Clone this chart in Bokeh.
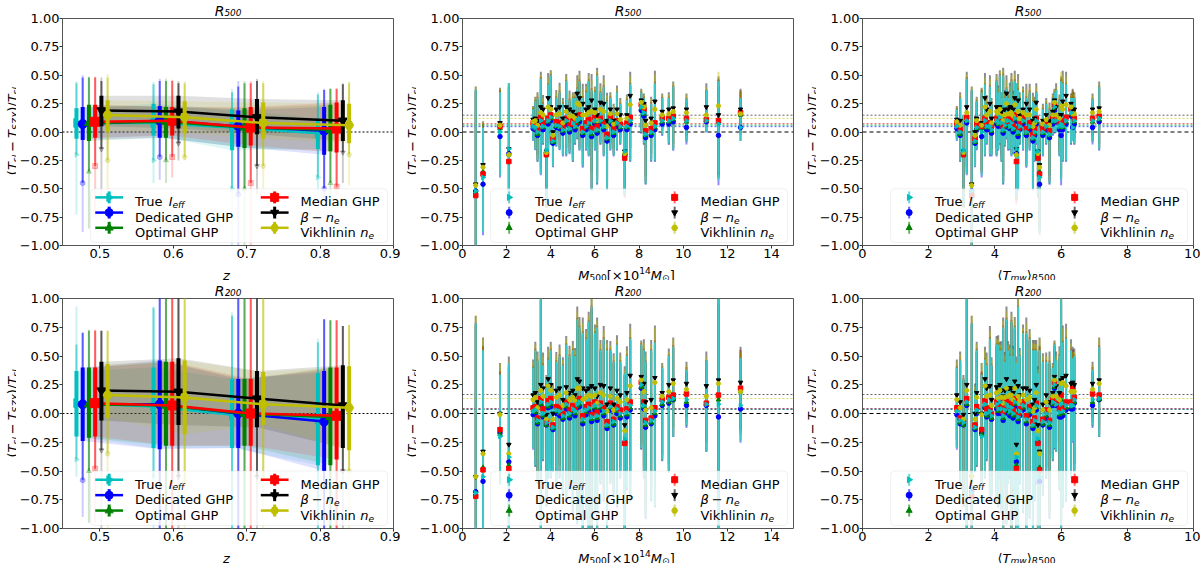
import numpy as np
from bokeh.plotting import figure
from bokeh.layouts import column, row
from bokeh.models import (ColumnDataSource, Label, Span, BoxAnnotation, FixedTicker,
                          Range1d, CustomJSTickFormatter, Plot)
from bokeh.embed import file_html
from bokeh.resources import INLINE

FONT = "DejaVu Sans"

# ---------------------------------------------------------------- methods
method_colors = ["#00bfbf", "#0000ff", "#008000", "#ff0000", "#000000", "#bfbf00"]
method_markers = ["triangle", "circle", "triangle", "square", "inverted_triangle", "hex"]
method_angles = [-np.pi / 2, 0.0, 0.0, 0.0, 0.0, 0.0]
# legend texts as (piece, style) runs: n normal, i italic, si/sn subscript, p superscript
method_labels = [
    [("True ", "n"), ("I", "i"), ("eff", "si")],
    [("Dedicated GHP", "n")],
    [("Optimal GHP", "n")],
    [("Median GHP", "n")],
    [("β", "i"), (3, "gap"), ("−", "n"), (3, "gap"), ("n", "i"), ("e", "si")],
    [("Vikhlinin ", "n"), ("n", "i"), ("e", "si")],
]

# ---------------------------------------------------------------- redshift bins
z_bins = [0.468, 0.573, 0.680, 0.797]
z_dodge = [0.0, 0.0085, 0.017, 0.0255, 0.034, 0.0425]

# R500: rows = methods (True, Dedicated, Optimal, Median, beta, Vikhlinin)
z500_med = [[0.08, 0.08, 0.04, -0.01], [0.07, 0.10, 0.05, 0.01], [0.08, 0.09, 0.04, 0.02],
            [0.09, 0.10, 0.04, 0.03], [0.19, 0.18, 0.13, 0.10], [0.15, 0.13, 0.08, 0.06]]
z500_in_lo = [[-0.06, -0.03, -0.16, -0.15], [-0.07, -0.05, -0.13, -0.20], [-0.08, -0.05, -0.14, -0.17],
              [-0.05, -0.03, -0.12, -0.18], [0.05, 0.03, -0.02, -0.08], [0.00, -0.01, -0.06, -0.10]]
z500_in_hi = [[0.21, 0.25, 0.20, 0.12], [0.22, 0.23, 0.19, 0.22], [0.24, 0.22, 0.21, 0.24],
              [0.24, 0.22, 0.22, 0.26], [0.32, 0.32, 0.29, 0.28], [0.28, 0.27, 0.26, 0.25]]
z500_mid_lo = [[-0.20, -0.25, -0.50, -0.40], [-0.45, -0.22, -0.55, -0.50], [-0.35, -0.25, -0.50, -0.45],
               [-0.30, -0.22, -0.45, -0.48], [-0.15, -0.10, -0.30, -0.18], [-0.25, -0.22, -0.30, -0.20]]
z500_mid_hi = [[0.43, 0.42, 0.35, 0.33], [0.48, 0.45, 0.40, 0.37], [0.48, 0.45, 0.43, 0.38],
               [0.48, 0.45, 0.43, 0.38], [0.45, 0.43, 0.45, 0.42], [0.48, 0.43, 0.43, 0.43]]
z500_out_lo = [[-0.73, -0.45, -1.05, -0.55], [-0.88, -0.42, -1.05, -0.60], [-0.85, -0.45, -1.05, -0.60],
               [-0.75, -0.40, -1.05, -0.55], [-0.60, -0.25, -0.55, -0.45], [-0.55, -0.25, -0.50, -0.47]]
z500_out_hi = [[0.45, 0.44, 0.38, 0.35], [0.50, 0.47, 0.45, 0.38], [0.49, 0.47, 0.45, 0.38],
               [0.49, 0.46, 0.45, 0.38], [0.48, 0.45, 0.47, 0.43], [0.51, 0.45, 0.45, 0.45]]

# R200
z200_med = [[0.09, 0.06, -0.01, -0.05], [0.08, 0.08, 0.00, -0.07], [0.08, 0.07, 0.00, -0.03],
            [0.09, 0.07, 0.00, -0.02], [0.20, 0.19, 0.13, 0.07], [0.16, 0.14, 0.08, 0.05]]
z200_in_lo = [[-0.20, -0.30, -0.30, -0.45], [-0.24, -0.31, -0.30, -0.50], [-0.21, -0.28, -0.28, -0.45],
              [-0.20, -0.28, -0.28, -0.40], [-0.06, -0.10, -0.12, -0.30], [-0.04, -0.18, -0.10, -0.32]]
z200_in_hi = [[0.37, 0.40, 0.30, 0.35], [0.40, 0.46, 0.30, 0.37], [0.40, 0.45, 0.30, 0.40],
              [0.40, 0.45, 0.30, 0.40], [0.45, 0.48, 0.37, 0.42], [0.43, 0.46, 0.36, 0.41]]
z200_mid_lo = [[-0.40, -0.55, -1.05, -1.05], [-0.58, -1.05, -1.05, -1.05], [-0.50, -1.05, -1.05, -1.05],
               [-0.48, -1.05, -1.05, -1.05], [-0.32, -0.55, -0.55, -0.50], [-0.35, -0.60, -0.55, -0.50]]
z200_mid_hi = [[0.60, 0.92, 0.85, 0.62], [0.70, 1.05, 1.05, 0.82], [0.72, 1.05, 1.05, 0.81],
               [0.72, 1.05, 1.05, 0.81], [0.72, 1.05, 1.05, 0.76], [0.72, 1.05, 1.05, 0.77]]
z200_out_lo = [[-0.55, -1.05, -1.05, -1.05], [-0.90, -1.05, -1.05, -1.05], [-0.95, -1.05, -1.05, -1.05],
               [-0.95, -1.05, -1.05, -1.05], [-1.05, -1.05, -1.05, -1.05], [-1.05, -1.05, -1.05, -1.05]]
z200_out_hi = [[0.93, 0.93, 0.88, 0.65], [0.71, 1.05, 1.05, 0.82], [0.73, 1.05, 1.05, 0.81],
               [0.73, 1.05, 1.05, 0.81], [0.72, 1.05, 1.05, 0.76], [0.72, 1.05, 1.05, 0.77]]

# ---------------------------------------------------------------- individual clusters
m500 = [0.60, 0.93, 1.70, 2.10, 3.20, 3.30, 3.40, 3.55, 3.65, 3.80, 3.88, 4.00, 4.10, 4.25, 4.40,
        4.55, 4.70, 4.85, 5.00, 5.10, 5.20, 5.30, 5.45, 5.60, 5.72, 5.85, 6.00, 6.10, 6.25, 6.40,
        6.55, 6.70, 6.85, 7.00, 7.15, 7.35, 7.45, 7.60, 8.10, 8.22, 8.30, 8.55, 8.72, 9.05, 9.35,
        9.55, 10.15, 11.05, 11.60, 12.60]
tmw = [3.30, 5.35, 3.60, 4.65, 2.85, 3.45, 2.95, 3.15, 3.75, 3.05, 3.70, 4.15, 3.40, 4.30, 4.45,
       3.90, 4.05, 4.55, 4.20, 4.75, 4.35, 4.60, 4.95, 5.05, 4.50, 4.70, 4.85, 4.25, 5.25, 3.85,
       5.15, 4.40, 5.45, 4.10, 5.55, 5.30, 5.95, 6.15, 5.80, 6.30, 5.65, 5.20, 6.05, 5.75, 6.40,
       7.15, 6.95, 5.85, 6.00, 6.35]

r500_true = [-0.52, -0.40, 0.00, -0.15, 0.05, 0.04, 0.00, 0.10, 0.05, -0.16, 0.10, 0.13, -0.08, 0.06, 0.05,
             0.02, 0.10, 0.03, 0.08, 0.05, 0.10, 0.12, 0.00, 0.05, 0.08, 0.00, 0.10, 0.02, 0.10, 0.05,
             -0.05, 0.10, 0.00, 0.08, 0.05, -0.17, 0.05, 0.10, 0.22, 0.17, -0.02, 0.00, 0.05, 0.10, 0.10,
             0.12, 0.10, 0.10, 0.07, 0.04]
r500_dedicated = [-0.52, -0.46, -0.04, -0.19, 0.03, 0.02, -0.03, 0.08, 0.02, -0.18, 0.07, 0.10, -0.10, 0.04, 0.03,
                  -0.01, 0.07, 0.00, 0.05, 0.02, 0.07, 0.09, -0.03, 0.02, 0.05, -0.04, 0.07, -0.01, 0.07, 0.02,
                  -0.08, 0.07, -0.03, 0.05, 0.02, -0.20, 0.02, 0.07, 0.19, 0.14, -0.05, -0.03, 0.02, 0.07, 0.07,
                  0.09, 0.04, 0.09, -0.03, 0.04]
r500_optimal = [-0.53, -0.35, 0.03, -0.20, 0.06, 0.03, -0.02, 0.10, 0.04, -0.19, 0.09, 0.12, -0.09, 0.05, 0.04,
                0.01, 0.09, 0.02, 0.06, 0.04, 0.08, 0.11, -0.01, 0.04, 0.07, -0.02, 0.09, 0.01, 0.09, 0.04,
                -0.06, 0.09, -0.01, 0.07, 0.04, -0.19, 0.04, 0.09, 0.21, 0.16, -0.03, -0.01, 0.04, 0.09, 0.09,
                0.11, 0.09, 0.10, 0.09, 0.15]
r500_median = [-0.56, -0.37, 0.05, -0.26, 0.08, 0.07, 0.02, 0.13, 0.08, -0.20, 0.12, 0.15, -0.06, 0.09, 0.08,
               0.05, 0.12, 0.06, 0.10, 0.07, 0.13, 0.15, 0.03, 0.08, 0.11, 0.03, 0.13, 0.05, 0.12, 0.08,
               -0.02, 0.13, 0.03, 0.10, 0.07, -0.23, 0.08, 0.13, 0.24, 0.20, 0.01, 0.03, 0.08, 0.12, 0.12,
               0.14, 0.12, 0.11, 0.10, 0.17]
r500_beta = [-0.46, -0.29, 0.08, -0.15, 0.11, 0.12, 0.10, 0.22, 0.20, -0.17, 0.30, 0.22, 0.00, 0.20, 0.22,
             0.12, 0.22, 0.20, 0.18, 0.15, 0.34, 0.30, 0.25, 0.20, 0.22, 0.28, 0.20, 0.15, 0.26, 0.25,
             0.10, 0.20, 0.10, 0.20, 0.15, -0.17, 0.15, 0.32, 0.28, 0.25, 0.10, 0.12, 0.27, 0.18, 0.20,
             0.21, 0.20, 0.22, 0.15, 0.20]
r500_vikhlinin = [-0.47, -0.31, 0.06, -0.20, 0.09, 0.10, 0.06, 0.17, 0.15, -0.18, 0.22, 0.20, -0.03, 0.15, 0.16,
                  0.08, 0.18, 0.14, 0.14, 0.12, 0.25, 0.24, 0.15, 0.15, 0.17, 0.18, 0.17, 0.10, 0.20, 0.18,
                  0.05, 0.16, 0.07, 0.16, 0.11, -0.19, 0.12, 0.24, 0.26, 0.22, 0.06, 0.08, 0.20, 0.15, 0.16,
                  0.18, 0.17, 0.15, 0.23, 0.16]
r500_lo = [-1.05, -0.88, -0.38, -0.58, -0.07, -0.15, -0.25, -0.37, -0.10, -0.65, -0.20, -0.10, -0.30, -0.12, -0.15,
           -0.20, -0.20, -0.18, -0.25, -0.10, -0.05, -0.15, -0.30, -0.15, -0.20, -0.50, -0.15, -0.45, -0.10, -0.20,
           -0.50, -0.15, -0.20, -0.15, -0.10, -0.55, -0.20, -0.25, 0.00, -0.10, -0.45, -0.25, -0.25, -0.02, -0.10,
           -0.15, -0.08, 0.00, -0.42, -0.08]
r500_hi = [0.37, 0.04, 0.35, 0.43, 0.20, 0.27, 0.30, 0.47, 0.25, 0.15, 0.42, 0.50, 0.10, 0.30, 0.35,
           0.25, 0.45, 0.28, 0.30, 0.30, 0.38, 0.45, 0.30, 0.35, 0.45, 0.37, 0.35, 0.50, 0.35, 0.40,
           0.27, 0.30, 0.20, 0.35, 0.25, 0.05, 0.28, 0.42, 0.35, 0.30, 0.20, 0.25, 0.43, 0.30, 0.30,
           0.40, 0.29, 0.37, 0.45, 0.30]

r200_true = [-0.69, -0.55, -0.20, -0.38, 0.02, 0.03, -0.06, 0.10, 0.00, -0.08, 0.08, 0.10, -0.12, 0.03, 0.02,
             -0.02, 0.08, 0.00, 0.04, 0.02, 0.08, 0.10, -0.05, 0.03, 0.05, -0.03, 0.07, -0.02, 0.07, 0.02,
             -0.10, 0.06, -0.07, 0.04, 0.00, -0.22, 0.01, 0.07, 0.25, 0.07, -0.08, -0.06, 0.02, 0.10, 0.12,
             0.13, 0.12, 0.08, 0.08, 0.07]
r200_dedicated = [-0.68, -0.59, -0.17, -0.42, -0.01, 0.00, -0.09, 0.07, -0.03, -0.10, 0.05, 0.06, -0.14, 0.00, -0.02,
                  -0.05, 0.04, -0.04, 0.00, -0.02, 0.05, 0.06, -0.09, -0.01, 0.02, -0.07, 0.03, -0.06, 0.03, -0.02,
                  -0.13, 0.03, -0.10, 0.00, -0.04, -0.25, -0.03, 0.03, 0.22, 0.04, -0.12, -0.09, -0.02, 0.07, 0.09,
                  0.12, 0.07, 0.07, -0.03, 0.04]
r200_optimal = [-0.70, -0.47, -0.18, -0.45, 0.03, 0.01, -0.08, 0.08, -0.02, -0.10, 0.06, 0.08, -0.13, 0.02, 0.00,
                -0.04, 0.06, -0.02, 0.02, 0.00, 0.06, 0.08, -0.07, 0.01, 0.04, -0.05, 0.05, -0.04, 0.05, 0.00,
                -0.11, 0.05, -0.09, 0.02, -0.02, -0.24, -0.01, 0.05, 0.23, 0.06, -0.10, -0.08, 0.00, 0.08, 0.10,
                0.12, 0.10, 0.08, 0.12, 0.19]
r200_median = [-0.72, -0.49, -0.14, -0.48, 0.05, 0.06, -0.04, 0.13, 0.04, -0.07, 0.11, 0.13, -0.10, 0.06, 0.05,
               0.00, 0.10, 0.03, 0.07, 0.04, 0.11, 0.13, -0.02, 0.06, 0.08, -0.01, 0.10, 0.01, 0.09, 0.05,
               -0.07, 0.09, -0.05, 0.06, 0.03, -0.26, 0.04, 0.10, 0.27, 0.10, -0.06, -0.04, 0.05, 0.12, 0.14,
               0.16, 0.17, 0.09, 0.16, 0.22]
r200_beta = [-0.55, -0.33, 0.00, -0.27, 0.16, 0.18, 0.10, 0.25, 0.22, -0.01, 0.30, 0.25, 0.00, 0.20, 0.22,
             0.12, 0.23, 0.18, 0.20, 0.16, 0.30, 0.28, 0.22, 0.20, 0.22, 0.24, 0.22, 0.15, 0.25, 0.24,
             0.08, 0.22, 0.08, 0.20, 0.16, -0.10, 0.18, 0.33, 0.32, 0.26, 0.10, 0.12, 0.31, 0.18, 0.25,
             0.29, 0.26, 0.24, 0.29, 0.27]
r200_vikhlinin = [-0.55, -0.35, -0.01, -0.35, 0.12, 0.14, 0.05, 0.20, 0.15, -0.05, 0.24, 0.20, -0.05, 0.14, 0.16,
                  0.07, 0.18, 0.12, 0.14, 0.11, 0.22, 0.22, 0.12, 0.14, 0.16, 0.15, 0.16, 0.09, 0.18, 0.16,
                  0.02, 0.15, 0.03, 0.13, 0.10, -0.15, 0.12, 0.24, 0.29, 0.19, 0.03, 0.05, 0.27, 0.15, 0.19,
                  0.26, 0.21, 0.15, 0.26, 0.19]
r200_lo = [-1.05, -1.05, -0.62, -1.05, -0.30, -0.45, -0.60, -1.05, -0.40, -0.80, -0.55, -0.55, -0.50, -0.62, -0.55,
           -0.70, -0.75, -0.65, -0.85, -0.60, -0.95, -0.90, -1.05, -0.90, -1.05, -1.05, -0.85, -1.05, -0.60, -0.75,
           -1.05, -0.60, -0.70, -0.80, -0.55, -1.05, -0.65, -0.75, -0.30, -0.55, -0.90, -0.75, -0.80, -0.40, -0.50,
           -0.20, -0.10, -0.33, -1.05, -0.24]
r200_hi = [0.78, 0.55, 0.34, 0.44, 0.40, 0.55, 0.46, 1.00, 0.42, 0.30, 0.47, 0.55, 0.20, 0.45, 0.50,
           0.42, 0.60, 0.50, 0.55, 0.50, 0.82, 0.75, 0.70, 0.65, 0.80, 0.93, 0.70, 0.75, 0.55, 0.65,
           0.55, 0.55, 0.45, 0.60, 0.45, 0.35, 0.50, 0.65, 0.60, 0.55, 0.45, 0.55, 0.62, 0.40, 0.50,
           0.58, 0.38, 0.46, 1.00, 0.48]

# sample means of each method (dotted reference lines)
mean_r500 = [0.055, 0.047, 0.063, 0.074, 0.148, 0.120]
mean_r200 = [0.035, 0.040, 0.038, 0.042, 0.165, 0.130]

# ---------------------------------------------------------------- axes
y_ticks = [-1.0, -0.75, -0.5, -0.25, 0.0, 0.25, 0.5, 0.75, 1.0]
z_ticks = [0.5, 0.6, 0.7, 0.8, 0.9]
mass_ticks = [0, 2, 4, 6, 8, 10, 12, 14]
tmw_ticks = [0, 2, 4, 6, 8, 10]

# ---------------------------------------------------------------- rich text helper
CW = {" ": 0.318, "(": 0.390, ")": 0.390, "/": 0.337, "−": 0.838, "[": 0.390, "]": 0.390,
      "×": 0.838, ".": 0.318, "⟨": 0.390, "⟩": 0.390, "⊙": 0.838, "β": 0.636,
      "A": 0.684, "C": 0.698, "D": 0.770, "G": 0.775, "H": 0.752, "I": 0.295, "M": 0.863,
      "O": 0.787, "P": 0.603, "R": 0.695, "S": 0.635, "T": 0.611, "V": 0.684, "X": 0.685,
      "Z": 0.685, "a": 0.613, "c": 0.550, "d": 0.635, "e": 0.615, "f": 0.352, "h": 0.634,
      "i": 0.278, "k": 0.579, "l": 0.278, "m": 0.974, "n": 0.634, "o": 0.612, "p": 0.635,
      "r": 0.411, "s": 0.521, "t": 0.392, "u": 0.634, "w": 0.818, "z": 0.525}
for _d in "0123456789":
    CW[_d] = 0.636


def run_size(style, size):
    return size * 0.7 if style in ("si", "sn", "p") else size


def rich_label(p, x, y, parts, size, center=True, angle=0.0, xoff=0.0, yoff=0.0,
               level="annotation", drop=None, rise=None):
    drop = 0.26 * size if drop is None else drop
    rise = 0.40 * size if rise is None else rise
    widths = []
    for text, style in parts:
        if style == "gap":
            widths.append(text)
        else:
            widths.append(sum(CW.get(ch, 0.62) for ch in text) * run_size(style, size))
    pos = -sum(widths) / 2 if center else 0.0
    for (text, style), w in zip(parts, widths):
        if style != "gap":
            fs = run_size(style, size)
            shift = -drop if style in ("si", "sn") else (rise if style == "p" else 0.0)
            if angle == 0.0:
                ox, oy = xoff + pos, yoff + shift
            else:
                ox, oy = xoff - shift, yoff + pos
            p.add_layout(Label(x=x, y=y, x_offset=ox, y_offset=oy, text=text, angle=angle,
                               text_font=FONT, text_font_size=f"{fs:.1f}px",
                               text_font_style="italic" if style in ("i", "si") else "normal",
                               text_align="left", text_baseline="alphabetic",
                               text_color="black", level=level))
        pos += w


# ---------------------------------------------------------------- panel geometry
PANEL_W = 400
YLAB_W = 16
BORDER_L, BORDER_R, BORDER_B = 43, 7, 18
FRAME_W = PANEL_W - YLAB_W - BORDER_L - BORDER_R


def make_panel(height, top, xr, xticks, ndig, title):
    p = figure(width=PANEL_W - YLAB_W, height=height, x_range=Range1d(*xr), y_range=Range1d(-1.0, 1.0),
               output_backend="svg", toolbar_location=None,
               min_border_left=BORDER_L, min_border_right=BORDER_R,
               min_border_top=top, min_border_bottom=BORDER_B)
    p.grid.visible = False
    p.outline_line_color = "#555555"
    p.outline_line_width = 1
    p.title.text = title
    p.title.text_font = FONT
    p.title.text_font_size = "14px"
    p.title.text_font_style = "italic"
    p.title.text_color = "black"
    p.title.align = "center"
    p.title.standoff = 0
    for ax, ticks, nd in ((p.xaxis[0], xticks, ndig), (p.yaxis[0], y_ticks, 2)):
        ax.ticker = FixedTicker(ticks=ticks, minor_ticks=[])
        ax.formatter = CustomJSTickFormatter(
            code=f"return tick.toFixed({nd}).replace('-', '\\u2212');")
        ax.axis_line_color = None
        ax.major_tick_line_color = "#333333"
        ax.minor_tick_line_color = None
        ax.major_label_text_font = FONT
        ax.major_label_text_font_size = "13px"
        ax.major_label_text_color = "black"
        ax.major_tick_out = 3
        ax.major_tick_in = 0
        ax.major_label_standoff = 0
    return p


def strip(width, height):
    # a bare text canvas: its frame is the whole plot
    opts = dict(width=width, height=height, x_range=Range1d(0, width), y_range=Range1d(0, height),
                min_border=0, min_border_left=0, min_border_right=0, min_border_top=0,
                min_border_bottom=0, toolbar_location=None, output_backend="svg",
                outline_line_color=None)
    try:
        s = Plot(title=None, **opts)
    except Exception:
        s = Plot(**opts)
        s.title.visible = False
    return s


def fx(p, f):
    return p.x_range.start + f * (p.x_range.end - p.x_range.start)


def fy(f):
    return -1.0 + 2.0 * f


LEG_ROWS = [0.212, 0.145, 0.078]
LEG_HANDLE = [0.141, 0.641]
LEG_TEXT = [0.219, 0.719]


def draw_legend(p, frame_h, with_line):
    p.add_layout(BoxAnnotation(left=fx(p, 0.085), right=fx(p, 0.982), bottom=fy(0.013), top=fy(0.25),
                               fill_color="white", fill_alpha=0.8, line_color="#cccccc",
                               line_width=1, border_radius=4))
    bar = 6.0 * 2.0 / frame_h
    for m in range(6):
        col, rw = divmod(m, 3)
        cx = fx(p, LEG_HANDLE[col])
        cy = fy(LEG_ROWS[rw])
        c = method_colors[m]
        if with_line:
            hw = 0.042 * (p.x_range.end - p.x_range.start)
            p.segment(x0=[cx - hw], y0=[cy], x1=[cx + hw], y1=[cy], line_color=c,
                      line_width=2.5, level="overlay")
            p.segment(x0=[cx], y0=[cy - bar], x1=[cx], y1=[cy + bar], line_color=c,
                      line_width=3, level="overlay")
            p.scatter(x=[cx], y=[cy], marker=method_markers[m], angle=method_angles[m],
                      size=8, color=c, level="overlay")
        else:
            p.segment(x0=[cx], y0=[cy - bar], x1=[cx], y1=[cy + bar], line_color=c,
                      line_width=2, line_alpha=0.6, level="overlay")
            p.scatter(x=[cx], y=[cy], marker=method_markers[m], angle=method_angles[m],
                      size=6, color=c, level="overlay")
        rich_label(p, fx(p, LEG_TEXT[col]), cy, method_labels[m], 13, center=False,
                   yoff=-4.5, level="overlay", drop=3.0)


def draw_z_panel(p, med, in_lo, in_hi, mid_lo, mid_hi, out_lo, out_hi):
    p.add_layout(Span(location=0.0, dimension="width", line_color="black", line_dash="2 2",
                      line_width=1, level="underlay"))
    for m in range(6):
        zx = [zb + z_dodge[m] for zb in z_bins]
        p.varea(x=zx, y1=in_lo[m], y2=in_hi[m], fill_color=method_colors[m], fill_alpha=0.12)
    for m in range(6):
        c = method_colors[m]
        src = ColumnDataSource(dict(x=[zb + z_dodge[m] for zb in z_bins], med=med[m],
                                    ilo=in_lo[m], ihi=in_hi[m], mlo=mid_lo[m], mhi=mid_hi[m],
                                    olo=out_lo[m], ohi=out_hi[m]))
        p.segment("x", "olo", "x", "ohi", source=src, line_color=c, line_alpha=0.2, line_width=2)
        p.segment("x", "mlo", "x", "mhi", source=src, line_color=c, line_alpha=0.55, line_width=2)
        p.segment("x", "ilo", "x", "ihi", source=src, line_color=c, line_width=4)
        p.scatter("x", "mlo", source=src, marker=method_markers[m], angle=method_angles[m],
                  size=5, color=c, alpha=0.25)
        p.line("x", "med", source=src, line_color=c, line_width=2.5)
        p.scatter("x", "med", source=src, marker=method_markers[m], angle=method_angles[m],
                  size=9, color=c)


def draw_scatter_panel(p, xs, vals, lo, hi, means):
    for m in range(6):
        p.add_layout(Span(location=means[m], dimension="width", line_color=method_colors[m],
                          line_dash="2 2", line_width=1, line_alpha=0.6, level="underlay"))
    p.add_layout(Span(location=0.0, dimension="width", line_color="black", line_dash="4 3",
                      line_width=1.2, level="underlay"))
    base = vals[0]
    order = [1, 2, 3, 4, 5, 0]
    for m in order:
        v = vals[m]
        shift = [0.5 * (a - b) for a, b in zip(v, base)]
        src = ColumnDataSource(dict(x=xs, y0=[l + s for l, s in zip(lo, shift)],
                                    y1=[h + s for h, s in zip(hi, shift)]))
        if m == 0:
            p.segment("x", "y0", "x", "y1", source=src, line_color="#3fc6c6", line_width=2)
        else:
            p.segment("x", "y0", "x", "y1", source=src, line_color=method_colors[m],
                      line_width=2, line_alpha=0.45)
    for m in order:
        p.scatter(x=xs, y=vals[m], marker=method_markers[m], angle=method_angles[m],
                  size=4.5, color=method_colors[m])


YLABEL = [("(", "n"), ("T", "i"), ("sl", "si"), (3, "gap"), ("−", "n"), (3, "gap"),
          ("T", "i"), ("SZX", "si"), (")", "n"), ("/", "n"), ("T", "i"), ("sl", "si")]
XLABEL_Z = [("z", "i")]
XLABEL_M = [("M", "i"), ("500", "sn"), ("[×10", "n"), ("14", "p"), ("M", "i"), ("⊙", "sn"), ("]", "n")]
XLABEL_T = [("⟨", "n"), ("T", "i"), ("mw", "si"), ("⟩", "n"), ("R", "si"), ("500", "sn")]

# row geometry: (radius, title, border top, frame height, x-label strip height)
ROW_SPECS = [("500", "R₅₀₀", 16, 229, 17), ("200", "R₂₀₀", 18, 230, 17)]

rows_out = []
for radius, title, top, frame_h, xl_h in ROW_SPECS:
    main_h = top + frame_h + BORDER_B
    pz = make_panel(main_h, top, (0.449, 0.9), z_ticks, 1, title)
    pm = make_panel(main_h, top, (0.0, 15.0), mass_ticks, 0, title)
    pt = make_panel(main_h, top, (0.0, 10.0), tmw_ticks, 0, title)
    if radius == "500":
        draw_z_panel(pz, z500_med, z500_in_lo, z500_in_hi, z500_mid_lo, z500_mid_hi,
                     z500_out_lo, z500_out_hi)
        vals = [r500_true, r500_dedicated, r500_optimal, r500_median, r500_beta, r500_vikhlinin]
        lo, hi, means = r500_lo, r500_hi, mean_r500
    else:
        draw_z_panel(pz, z200_med, z200_in_lo, z200_in_hi, z200_mid_lo, z200_mid_hi,
                     z200_out_lo, z200_out_hi)
        vals = [r200_true, r200_dedicated, r200_optimal, r200_median, r200_beta, r200_vikhlinin]
        lo, hi, means = r200_lo, r200_hi, mean_r200
    draw_scatter_panel(pm, m500, vals, lo, hi, means)
    draw_scatter_panel(pt, tmw, vals, lo, hi, means)
    draw_legend(pz, frame_h, True)
    draw_legend(pm, frame_h, False)
    draw_legend(pt, frame_h, False)

    cells = []
    frame_cx = YLAB_W + BORDER_L + FRAME_W / 2
    for p, xl in ((pz, XLABEL_Z), (pm, XLABEL_M), (pt, XLABEL_T)):
        ys = strip(YLAB_W, main_h)
        rich_label(ys, 12.0, main_h - (top + frame_h / 2), YLABEL, 13, angle=np.pi / 2, drop=3.0)
        xs = strip(PANEL_W, xl_h)
        rich_label(xs, frame_cx, 5.5, xl, 13, drop=2.6, rise=4.2)
        cells.append(column(row(ys, p), xs))
    rows_out.append(row(*cells))

layout = column(*rows_out)
open("out.html", "w").write(file_html(layout, INLINE))
